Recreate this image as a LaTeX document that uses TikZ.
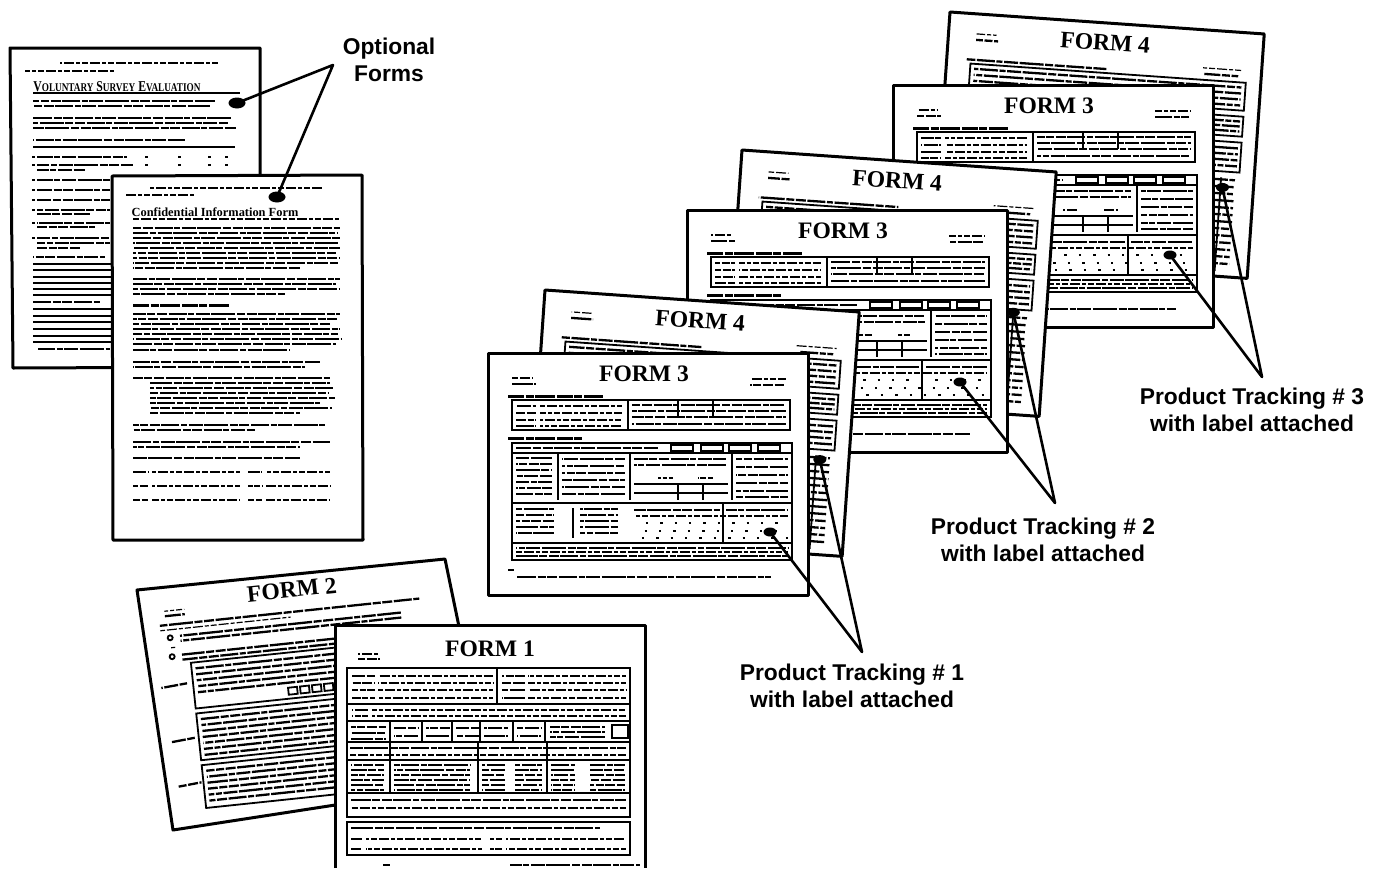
\documentclass[tikz,border=0pt]{standalone}
\usepackage{fontspec}
\usepackage{graphicx}
\setmainfont{Liberation Serif}
\newfontfamily\lsans{Liberation Sans}
\usetikzlibrary{shapes.geometric}
\newcommand{\SmC}[1]{{\fontsize{5.9}{6}\selectfont #1}}
\pgfmathsetseed{7}
\tikzset{
  pg/.style={draw=black, fill=white, line width=1.5pt, line join=round},
  tl/.style={line width=1.15pt, dash pattern=on 5pt off 0.8pt on 9pt off 0.8pt on 3pt off 0.8pt on 7pt off 0.8pt on 12pt off 0.8pt on 4pt off 0.8pt, dash phase={41pt*rnd}},
  tlthin/.style={line width=0.6pt, dash pattern=on 3pt off 1pt on 5pt off 1pt on 2pt off 1pt, dash phase={14pt*rnd}},
  tlbold/.style={line width=1.5pt, dash pattern=on 8pt off 0.8pt on 4pt off 0.8pt on 10pt off 0.8pt},
  bx/.style={line width=0.9pt},
  dotrow/.style={line width=1pt, dash pattern=on 1.2pt off 6pt, dash phase={7pt*rnd}},
  fdot/.style={ellipse, fill=black, inner sep=0pt, minimum width=6.5pt, minimum height=4.5pt},
  bigdot/.style={ellipse, fill=black, inner sep=0pt, minimum width=8.5pt, minimum height=5.5pt},
  ldr/.style={line width=1.3pt, line join=round},
  lbl/.style={font=\lsans\bfseries\fontsize{11.4}{13.5}\selectfont, align=center, inner sep=0pt},
  ftitle/.style={font=\bfseries\fontsize{11.8}{12}\selectfont, inner sep=0pt},
}
\newcommand{\FormThreePage}[3]{%
  \filldraw[pg] (0,0) rectangle (320,242);
  \node[ftitle] (ft#1) at (156,21) {FORM 3};
  \draw[tlthin] (24,25) -- (44,25);
  \draw[tl] (24,31) -- (48,31);
  \draw[tlthin] (262,26) -- (298,26);
  \draw[tl] (262,32) -- (296,32);
  \draw[tlbold] (20,43) -- (115,43);
  \draw[bx] (24,47) rectangle (302,77);
  \draw[bx] (140,47) -- (140,77);
  \foreach \y in {53,60,67,73} {\draw[tl] (28,\y) -- (48,\y); \draw[tlthin] (52,\y) -- (134,\y);}
  \foreach \y in {52,58,64,71} {\draw[tl] (144,\y) -- (298,\y);}
  \draw[bx] (190,47) -- (190,64); \draw[bx] (225,47) -- (225,64);
  \draw[tlbold] (20,85) -- (94,85);
  \draw[bx] (24,90) rectangle (304,207);
  \foreach \x in {183,213,241,270} \draw[line width=0.6pt] (\x,92) rectangle +(22,6);
  \draw[tl] (28,95) -- (170,95);
  \draw[bx] (24,100) -- (304,100);
  \foreach \x in {70,142,244} \draw[bx] (\x,100) -- (\x,147);
  \foreach \y in {105,111,117,123,129,135,141} \draw[tl] (28,\y) -- (64,\y);
  \foreach \y in {106,113,120,127,134,141} \draw[tl] (74,\y) -- (137,\y);
  \foreach \y in {106,112} \draw[tl] (146,\y) -- (238,\y);
  \draw[tlthin] (170,125) -- (185,125); \draw[tlthin] (210,125) -- (225,125);
  \draw[bx] (146,131) -- (240,131); \draw[bx] (146,140) -- (240,140);
  \draw[bx] (190,131) -- (190,147); \draw[bx] (215,131) -- (215,147);
  \foreach \y in {106,114,122,130,138,144} \draw[tl] (248,\y) -- (300,\y);
  \draw[bx, line width=1.3pt] (24,150) -- (304,150);
  \foreach \y in {156,162,168,174,180} {\draw[tl] (28,\y) -- (66,\y); \draw[tl] (92,\y) -- (130,\y);}
  \draw[bx] (85,155) -- (85,185);
  \draw[tl] (146,157) -- (232,157); \draw[tl] (238,157) -- (300,157);
  \draw[tlthin] (146,163) -- (300,163);
  \draw[bx] (235,150) -- (235,190);
  \foreach \y in {170,178,185} \draw[dotrow] (148,\y) -- (300,\y);
  \draw[bx, line width=1.3pt] (24,190) -- (304,190);
  \draw[tl] (28,195) -- (300,195);
  \draw[tlthin] (28,199) -- (300,199);
  \draw[tl] (28,203) -- (300,203);
  \draw[tl] (20,217) -- (26,217);
  \draw[tl] (29,224) -- (283,224);
  \node[fdot] (dt#1) at (#2,#3) {};
}
\newcommand{\FormFourPage}[3]{%
  \filldraw[pg] (0,0) rectangle (315,245);
  \node[ftitle, transform shape] (ff#1) at (157,20) {FORM 4};
  \draw[tlthin] (28,20) -- (48,20);
  \draw[tl] (28,26) -- (50,26);
  \draw[tlthin] (255,38) -- (295,38);
  \draw[tl] (258,44) -- (292,44);
  \draw[tl] (20,46) -- (160,46);
  \draw[bx] (24,50) rectangle (300,78);
  \foreach \y in {55,61,67,73} \draw[tl] (28,\y) -- (296,\y);
  \draw[bx] (266,84) rectangle (300,104);
  \foreach \y in {89,94,99} \draw[tl] (269,\y) -- (297,\y);
  \draw[bx] (266,110) rectangle (300,140);
  \foreach \y in {116,122,128,134} \draw[tl] (269,\y) -- (297,\y);
  \foreach \y in {148,155,...,238} \draw[tl] (268,\y) -- (296,\y);
  \draw[bx] (282,146) -- (282,240);
  \node[fdot] (df#1) at (#2,#3) {};
}
\begin{document}
\begin{tikzpicture}[x=0.5pt,y=-0.5pt]
\useasboundingbox (0,0) rectangle (1377,868);
\fill[white] (0,0) rectangle (1377,868);

% ---------- Page A: Voluntary Survey Evaluation ----------
\filldraw[pg] (10,48) -- (260,48) -- (260,367) -- (13,368) -- cycle;
\draw[tlthin] (60,63) -- (220,63);
\draw[tlthin] (25,71) -- (115,71);
\node[font=\bfseries\fontsize{7.5}{8}\selectfont, anchor=west, inner sep=0pt] (vtitle) at (33,87) {\scalebox{0.78}[1]{V\SmC{OLUNTARY} S\SmC{URVEY} E\SmC{VALUATION}}};
\draw[line width=0.9pt] (33,93) -- (240,93);
\foreach \y/\xe in {101/215,106/210,118/232,123/228,128/236} \draw[tl] (33,\y) -- (\xe,\y);
\draw[tl] (33,140) -- (185,140);
\draw[line width=1.3pt] (33,147) -- (235,147);
\foreach \y/\xe in {157/127,165/133,170/85,180/110,190/110,200/110,210/110,214/90,223/110,227/95,238/110,243/110,248/80} \draw[tl] (37,\y) -- (\xe,\y);
\foreach \y in {157,165,180,190,200,210,223,238} \draw[line width=1pt] (32,\y) -- (35,\y);
\foreach \x in {145,178,208,225} {\draw[line width=1pt] (\x,157) -- +(3,0); \draw[line width=1pt] (\x,165) -- +(3,0);}
\draw[tl] (33,257) -- (105,257);
\foreach \y in {264,270,277,283,289,295} \draw[line width=1pt] (33,\y) -- (238,\y);
\draw[tl] (33,302) -- (100,302);
\foreach \y in {309,316,322,329,336,342} \draw[line width=1pt] (33,\y) -- (238,\y);
\draw[tl] (38,349) -- (110,349);
\node[bigdot] (dA) at (237,103) {};

% ---------- Page B: Confidential Information Form ----------
\filldraw[pg] (112,176) -- (362,175) -- (363,540) -- (113,540) -- cycle;
\draw[tlthin] (150,188) -- (322,188);
\draw[tlthin] (125,195) -- (195,195);
\node[font=\bfseries\fontsize{6.2}{7}\selectfont, inner sep=0pt] (ctitle) at (215,212) {Confidential Information Form};
\draw[tlthin] (133,219) -- (340,219);
\foreach \y/\xe in {228/340,233/337,238/341,243/338,248/340,253/336,258/340,263/338,268/300} \draw[tl] (133,\y) -- (\xe,\y);
\foreach \y/\xe in {279/340,284/336,289/339,294/285} \draw[tl] (133,\y) -- (\xe,\y);
\draw[tlbold] (133,305) -- (230,305);
\foreach \y/\xe in {314/340,319/338,324/330,329/340,334/338,339/341,344/336,350/290} \draw[tl] (133,\y) -- (\xe,\y);
\foreach \y/\xe in {362/320,367/305} \draw[tl] (133,\y) -- (\xe,\y);
\draw[tl] (133,378) -- (330,378);
\foreach \y/\xe in {383/330,388/334,393/328,398/335,403/320,408/332,413/300} \draw[tl] (150,\y) -- (\xe,\y);
\foreach \y/\xe in {425/325,430/255,442/330,447/300,458/300} \draw[tl] (133,\y) -- (\xe,\y);
\foreach \y in {472,486,500} {\draw[tl] (133,\y) -- (148,\y); \draw[tlthin] (152,\y) -- (240,\y); \draw[tl] (248,\y) -- (262,\y); \draw[tlthin] (266,\y) -- (330,\y);}
\node[bigdot] (dB) at (277,197) {};

% ---------- FORM 2 ----------
\filldraw[pg] (137,590) -- (445,559) -- (491,781) -- (173,830) -- cycle;
\begin{scope}[shift={(137,590)}, rotate=6]
  \node[ftitle, transform shape] (f2) at (154,16) {FORM 2};
  \draw[tlthin] (25,24) -- (45,24);
  \draw[tl] (25,29) -- (45,29);
  \draw[tl] (19,38) -- (280,38);
  \draw[tlthin] (19,43) -- (150,43);
  \draw[line width=0.9pt] (28,51) circle[radius=2.5];
  \foreach \y in {50,55} \draw[tl] (38,\y) -- (260,\y);
  \draw[tlthin] (26,61) -- (32,61);
  \draw[line width=0.9pt] (28,70) circle[radius=2.5];
  \foreach \y in {69,74} \draw[tl] (38,\y) -- (295,\y);
  \draw[bx] (46,78) rectangle (300,124);
  \foreach \y in {84,90,96,102,108} \draw[tl] (50,\y) -- (296,\y);
  \foreach \x in {140,152,164,176,188,200} \draw[bx] (\x,113) rectangle +(9,7);
  \draw[tl] (14,100) -- (40,98);
  \draw[bx] (46,129) rectangle (300,176);
  \foreach \y in {135,141,...,171} \draw[tl] (50,\y) -- (296,\y);
  \draw[tl] (18,155) -- (42,153);
  \draw[bx] (46,181) rectangle (300,224);
  \foreach \y in {187,193,...,219} \draw[tl] (50,\y) -- (296,\y);
  \draw[tl] (20,200) -- (44,198);
\end{scope}

% ---------- FORM 1 ----------
\fill[white] (335,625) rectangle (645,868);
\draw[pg] (335,868) -- (335,625) -- (645,625) -- (645,868);
\node[ftitle] (f1) at (490,649) {FORM 1};
\draw[tlthin] (358,654) -- (378,654);
\draw[tl] (358,659) -- (380,659);
\draw[bx, line width=1.2pt] (347,668) rectangle (630,817);
\draw[bx] (497,668) -- (497,704);
\foreach \y in {676,683,690,698} {\draw[tl] (352,\y) -- (375,\y); \draw[tlthin] (378,\y) -- (493,\y); \draw[tl] (502,\y) -- (525,\y); \draw[tlthin] (528,\y) -- (626,\y);}
\draw[bx, line width=1.2pt] (347,704) -- (630,704);
\foreach \y in {710,716} {\draw[tl] (352,\y) -- (368,\y); \draw[tlthin] (372,\y) -- (626,\y);}
\draw[bx] (347,721) -- (630,721);
\foreach \y in {727,733,739} \draw[tl] (351,\y) -- (386,\y);
\foreach \x in {390,422,452,480,513,545} \draw[bx] (\x,721) -- (\x,742);
\foreach \x in {394,426,456,484,517} {\draw[tl] (\x,728) -- +(24,0); \draw[tl] (\x,736) -- +(24,0);}
\foreach \y in {727,732,737} \draw[tl] (550,\y) -- (605,\y);
\draw[bx] (612,725) rectangle (628,738);
\draw[bx, line width=1.2pt] (347,742) -- (630,742);
\draw[tl] (350,748) -- (626,748);
\draw[tlthin] (350,755) -- (626,755);
\draw[bx] (347,760) -- (630,760);
\foreach \x in {390,478,547} \draw[bx] (\x,742) -- (\x,793);
\foreach \y in {765,770,775,780,785,790} {\draw[tl] (351,\y) -- (384,\y); \draw[tl] (394,\y) -- (470,\y); \draw[tl] (482,\y) -- (505,\y); \draw[tl] (515,\y) -- (542,\y); \draw[tl] (551,\y) -- (575,\y); \draw[tl] (590,\y) -- (625,\y);}
\draw[bx, line width=1.2pt] (347,793) -- (630,793);
\draw[tl] (351,800) -- (626,800);
\draw[tlthin] (351,808) -- (626,808);
\draw[bx, line width=1.2pt] (347,822) rectangle (630,855);
\draw[tl] (351,828) -- (600,828);
\foreach \y in {839,849} {\draw[tl] (351,\y) -- (362,\y); \draw[tlthin] (366,\y) -- (482,\y); \draw[tl] (490,\y) -- (502,\y); \draw[tlthin] (506,\y) -- (626,\y);}
\draw[tl] (383,865) -- (390,865);
\draw[tl] (510,865) -- (640,865);

% ---------- Groups of FORM 3 / FORM 4 (back to front) ----------
\begin{scope}[shift={(950,12)}, rotate=-4] \FormFourPage{3}{284}{156} \end{scope}
\begin{scope}[shift={(893,85)}] \FormThreePage{3}{277}{170} \end{scope}
\begin{scope}[shift={(742,150)}, rotate=-4] \FormFourPage{2}{282}{143} \end{scope}
\begin{scope}[shift={(687,210)}] \FormThreePage{2}{273}{172} \end{scope}
\begin{scope}[shift={(545,290)}, rotate=-4] \FormFourPage{1}{286}{150} \end{scope}
\begin{scope}[shift={(488,353)}] \FormThreePage{1}{282}{179} \end{scope}

% ---------- Labels and leaders ----------
\node[lbl] (opt) at (389,60) {Optional\\Forms};
\node[lbl] (pt1) at (852,686) {Product Tracking \# 1\\with label attached};
\node[lbl] (pt2) at (1043,540) {Product Tracking \# 2\\with label attached};
\node[lbl] (pt3) at (1252,410) {Product Tracking \# 3\\with label attached};
\coordinate (ao) at (333,65);
\coordinate (a1) at (862,652);
\coordinate (a2) at (1055,503);
\coordinate (a3) at (1262,377);
\draw[ldr] (dA.center) -- (ao) -- (dB.center);
\draw[ldr] (dt1.center) -- (a1) -- (df1.center);
\draw[ldr] (dt2.center) -- (a2) -- (df2.center);
\draw[ldr] (dt3.center) -- (a3) -- (df3.center);
\end{tikzpicture}
\end{document}
